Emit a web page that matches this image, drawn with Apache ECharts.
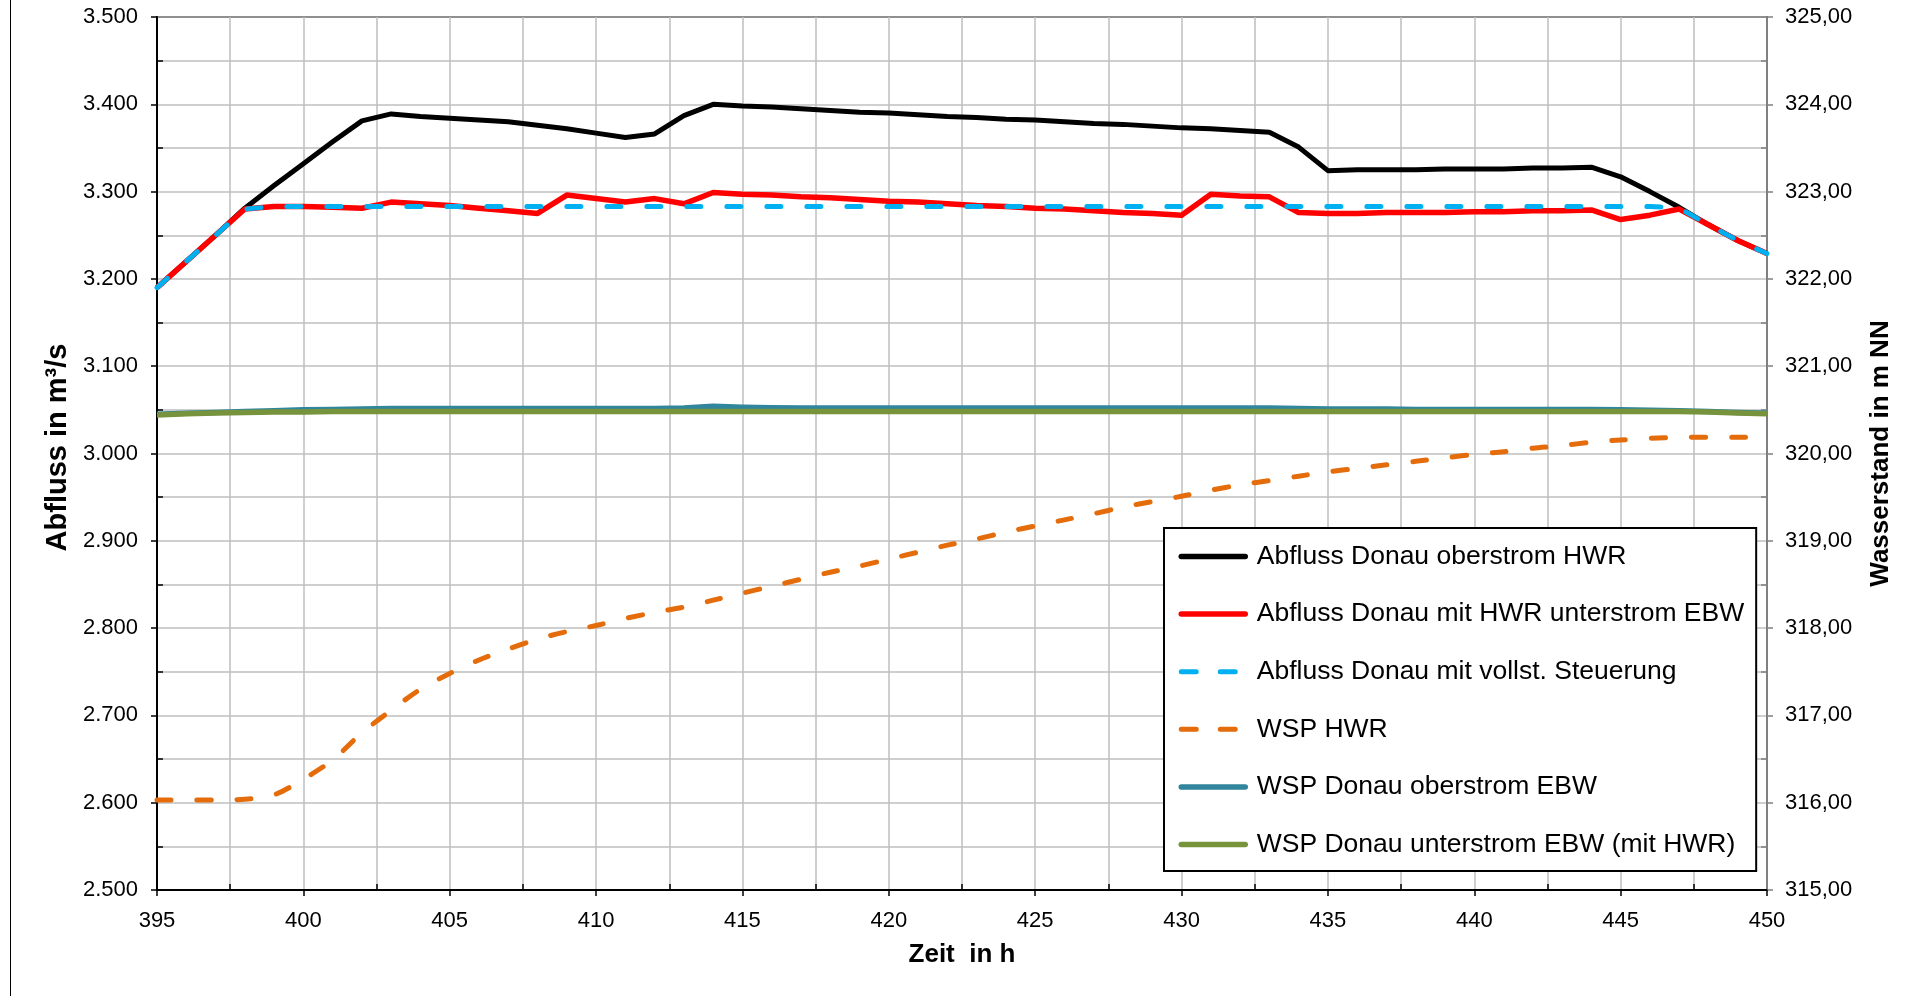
<!DOCTYPE html>
<html>
<head>
<meta charset="utf-8">
<title>Abfluss und Wasserstand Donau</title>
<script src="https://cdn.jsdelivr.net/npm/echarts@6/dist/echarts.min.js"></script>
<style>
  html, body { margin: 0; padding: 0; background: #fff; }
  #chart { width: 1924px; height: 996px; }
</style>
</head>
<body>
<div id="chart"></div>
<script>
// Zeitachse (Stunden)
const hours = [395, 396, 397, 398, 399, 400, 401, 402, 403, 404, 405, 406, 407, 408, 409, 410,
  411, 412, 413, 414, 415, 416, 417, 418, 419, 420, 421, 422, 423, 424, 425, 426, 427, 428, 429, 430,
  431, 432, 433, 434, 435, 436, 437, 438, 439, 440, 441, 442, 443, 444, 445, 446, 447, 448, 449, 450];

// Abfluss in m³/s (linke Achse)
const abflussOberstromHWR = [3190, 3220, 3250, 3281, 3307, 3332, 3357, 3381, 3389, 3386, 3384, 3382, 3380, 3376, 3372, 3367,
  3362, 3366, 3387, 3400, 3398, 3397, 3395, 3393, 3391, 3390, 3388, 3386, 3385, 3383, 3382, 3380, 3378, 3377, 3375, 3373,
  3372, 3370, 3368, 3351, 3324, 3325, 3325, 3325, 3326, 3326, 3326, 3327, 3327, 3328, 3317, 3300, 3282, 3262, 3244, 3229];

const abflussMitHWRUnterstromEBW = [3190, 3220, 3250, 3280, 3283, 3283, 3282, 3281, 3288, 3286, 3284, 3281, 3278, 3275, 3296, 3292,
  3288, 3292, 3286, 3299, 3297, 3296, 3294, 3293, 3291, 3289, 3288, 3286, 3284, 3283, 3281, 3280, 3278, 3276, 3275, 3273,
  3297, 3295, 3294, 3276, 3275, 3275, 3276, 3276, 3276, 3277, 3277, 3278, 3278, 3279, 3268, 3273, 3280, 3262, 3244, 3229];

const abflussVollstSteuerung = [3190, 3220, 3250, 3280, 3283, 3283, 3283, 3283, 3283, 3283, 3283, 3283, 3283, 3283, 3283, 3283,
  3283, 3283, 3283, 3283, 3283, 3283, 3283, 3283, 3283, 3283, 3283, 3283, 3283, 3283, 3283, 3283, 3283, 3283, 3283, 3283,
  3283, 3283, 3283, 3283, 3283, 3283, 3283, 3283, 3283, 3283, 3283, 3283, 3283, 3283, 3283, 3283, 3281, 3262, 3244, 3229];

// Wasserstand in m NN (rechte Achse)
const wspHWR = [316.03, 316.03, 316.03, 316.04, 316.09, 316.27, 316.49, 316.80, 317.06, 317.30, 317.48, 317.635, 317.76, 317.875, 317.96, 318.03,
  318.11, 318.18, 318.24, 318.32, 318.40, 318.48, 318.56, 318.64, 318.71, 318.79, 318.87, 318.95, 319.02, 319.10, 319.17, 319.24,
  319.31, 319.385, 319.45, 319.51, 319.58, 319.64, 319.69, 319.74, 319.79, 319.83, 319.87, 319.91, 319.95, 319.99, 320.02, 320.06,
  320.09, 320.13, 320.155, 320.175, 320.185, 320.187, 320.187, 320.187];

const wspOberstromEBW = [320.45, 320.46, 320.47, 320.48, 320.49, 320.50, 320.505, 320.51, 320.515, 320.515, 320.515, 320.515, 320.515, 320.515, 320.515, 320.515,
  320.515, 320.515, 320.52, 320.54, 320.53, 320.525, 320.52, 320.52, 320.52, 320.52, 320.52, 320.52, 320.52, 320.52, 320.52, 320.52,
  320.52, 320.52, 320.52, 320.52, 320.52, 320.52, 320.52, 320.515, 320.51, 320.51, 320.51, 320.505, 320.505, 320.505, 320.505, 320.505,
  320.505, 320.505, 320.50, 320.495, 320.49, 320.48, 320.47, 320.46];

const wspUnterstromEBW = [320.44, 320.455, 320.465, 320.47, 320.475, 320.475, 320.48, 320.48, 320.48, 320.48, 320.48, 320.48, 320.48, 320.48, 320.48, 320.48,
  320.48, 320.48, 320.48, 320.48, 320.48, 320.48, 320.48, 320.48, 320.48, 320.48, 320.48, 320.48, 320.48, 320.48, 320.48, 320.48,
  320.48, 320.48, 320.48, 320.48, 320.48, 320.48, 320.48, 320.48, 320.48, 320.48, 320.48, 320.48, 320.48, 320.48, 320.48, 320.48,
  320.48, 320.48, 320.48, 320.48, 320.48, 320.475, 320.465, 320.455];

const FONT = '"Liberation Sans", Arial, sans-serif';
const GRID_COLOR = '#bfbfbf';
const DASH = [14, 26];
const LEGEND_DASH = [15, 24];

const pairs = arr => hours.map((h, i) => [h, arr[i]]);

// Tausendertrennzeichen mit Punkt: 3500 -> "3.500"
const fmtAbfluss = v => {
  const s = String(Math.round(v));
  return s.length > 3 ? s.slice(0, s.length - 3) + '.' + s.slice(-3) : s;
};
// Dezimalkomma: 325 -> "325,00"
const fmtWsp = v => v.toFixed(2).replace('.', ',');

function lineSeries(name, arr, color, width, axis, dashed, z) {
  return {
    name: name,
    type: 'line',
    yAxisIndex: axis,
    data: pairs(arr),
    symbol: 'none',
    z: z,
    smooth: name === 'WSP HWR' ? 0.3 : false,
    itemStyle: { color: color },
    lineStyle: {
      color: color,
      width: width,
      type: dashed ? DASH : 'solid',
      cap: dashed ? 'round' : 'butt',
      join: 'round'
    },
    emphasis: { disabled: true }
  };
}

function legendEntry(name, dashed) {
  return dashed
    ? { name: name, lineStyle: { type: LEGEND_DASH, cap: 'round', width: 5 } }
    : { name: name, lineStyle: { type: 'solid', cap: 'round', width: 5.5 } };
}

const chart = echarts.init(document.getElementById('chart'), null, { renderer: 'canvas' });

chart.setOption({
  animation: false,
  backgroundColor: '#fff',
  textStyle: { fontFamily: FONT },
  graphic: [{
    type: 'line',
    shape: { x1: 10.5, y1: 0, x2: 10.5, y2: 996 },
    style: { stroke: '#000', lineWidth: 1 },
    silent: true
  }],
  grid: {
    left: 157, top: 17, width: 1610, height: 873,
    show: true, borderColor: '#000', borderWidth: 2, backgroundColor: 'transparent'
  },
  legend: {
    orient: 'vertical',
    left: 1164, top: 528,
    padding: [15, 12, 13, 14.5],
    itemWidth: 64, itemHeight: 26, itemGap: 30.6,
    borderColor: '#000', borderWidth: 2, backgroundColor: '#fff',
    textStyle: { fontFamily: FONT, fontSize: 26.5, lineHeight: 26, color: '#000', padding: [0, 0, 0, 6.5] },
    itemStyle: { color: 'rgba(0,0,0,0)', borderWidth: 0, opacity: 0 },
    lineStyle: { width: 5, cap: 'round' },
    selectedMode: false,
    data: [
      legendEntry('Abfluss Donau oberstrom HWR', false),
      legendEntry('Abfluss Donau mit HWR unterstrom EBW', false),
      legendEntry('Abfluss Donau mit vollst. Steuerung', true),
      legendEntry('WSP HWR', true),
      legendEntry('WSP Donau oberstrom EBW', false),
      legendEntry('WSP Donau unterstrom EBW (mit HWR)', false)
    ]
  },
  xAxis: {
    type: 'value', min: 395, max: 450, interval: 5,
    name: 'Zeit  in h', nameLocation: 'middle', nameGap: 52,
    nameTextStyle: { fontFamily: FONT, fontSize: 26, fontWeight: 'bold', color: '#000' },
    axisLine: { show: true, onZero: false, lineStyle: { color: '#000', width: 2 } },
    axisTick: { show: true, length: 6, lineStyle: { color: '#000', width: 1.5 } },
    minorTick: { show: true, splitNumber: 2, length: -6, lineStyle: { color: '#000', width: 1.5 } },
    splitLine: { show: true, lineStyle: { color: GRID_COLOR, width: 1.5 } },
    minorSplitLine: { show: true, lineStyle: { color: GRID_COLOR, width: 1.5 } },
    axisLabel: { fontFamily: FONT, fontSize: 22, color: '#000', margin: 20, showMinLabel: true, showMaxLabel: true }
  },
  yAxis: [{
    type: 'value', min: 2500, max: 3500, interval: 100, position: 'left',
    name: 'Abfluss in m³/s', nameLocation: 'middle', nameGap: 84, nameRotate: 90,
    nameTextStyle: { fontFamily: FONT, fontSize: 29, fontWeight: 'bold', color: '#000', padding: [0, 0, 0, 12] },
    axisLine: { show: true, lineStyle: { color: '#000', width: 2 } },
    axisTick: { show: true, length: 6, lineStyle: { color: '#000', width: 1.5 } },
    minorTick: { show: true, splitNumber: 2, length: -6, lineStyle: { color: '#000', width: 1.5 } },
    splitLine: { show: true, lineStyle: { color: GRID_COLOR, width: 1.5 } },
    minorSplitLine: { show: true, lineStyle: { color: GRID_COLOR, width: 1.5 } },
    axisLabel: { fontFamily: FONT, fontSize: 22, color: '#000', margin: 19, formatter: fmtAbfluss, showMinLabel: true, showMaxLabel: true }
  }, {
    type: 'value', min: 315, max: 325, interval: 1, position: 'right',
    name: 'Wasserstand in m NN', nameLocation: 'middle', nameGap: 101, nameRotate: 90,
    nameTextStyle: { fontFamily: FONT, fontSize: 26, fontWeight: 'bold', color: '#000' },
    axisLine: { show: true, lineStyle: { color: '#808080', width: 2 } },
    axisTick: { show: true, length: 6, lineStyle: { color: '#808080', width: 1.5 } },
    minorTick: { show: true, splitNumber: 2, length: -6, lineStyle: { color: '#808080', width: 1.5 } },
    splitLine: { show: false },
    axisLabel: { fontFamily: FONT, fontSize: 22, color: '#000', margin: 18, formatter: fmtWsp, showMinLabel: true, showMaxLabel: true }
  }],
  series: [
    lineSeries('Abfluss Donau oberstrom HWR', abflussOberstromHWR, '#000000', 5, 0, false, 2),
    lineSeries('Abfluss Donau mit HWR unterstrom EBW', abflussMitHWRUnterstromEBW, '#ff0000', 5.5, 0, false, 3),
    lineSeries('Abfluss Donau mit vollst. Steuerung', abflussVollstSteuerung, '#00b0f0', 5, 0, true, 4),
    lineSeries('WSP HWR', wspHWR, '#e46c0a', 5, 1, true, 5),
    lineSeries('WSP Donau oberstrom EBW', wspOberstromEBW, '#31859c', 5.5, 1, false, 6),
    lineSeries('WSP Donau unterstrom EBW (mit HWR)', wspUnterstromEBW, '#77933c', 5.5, 1, false, 7)
  ]
});
</script>
</body>
</html>
